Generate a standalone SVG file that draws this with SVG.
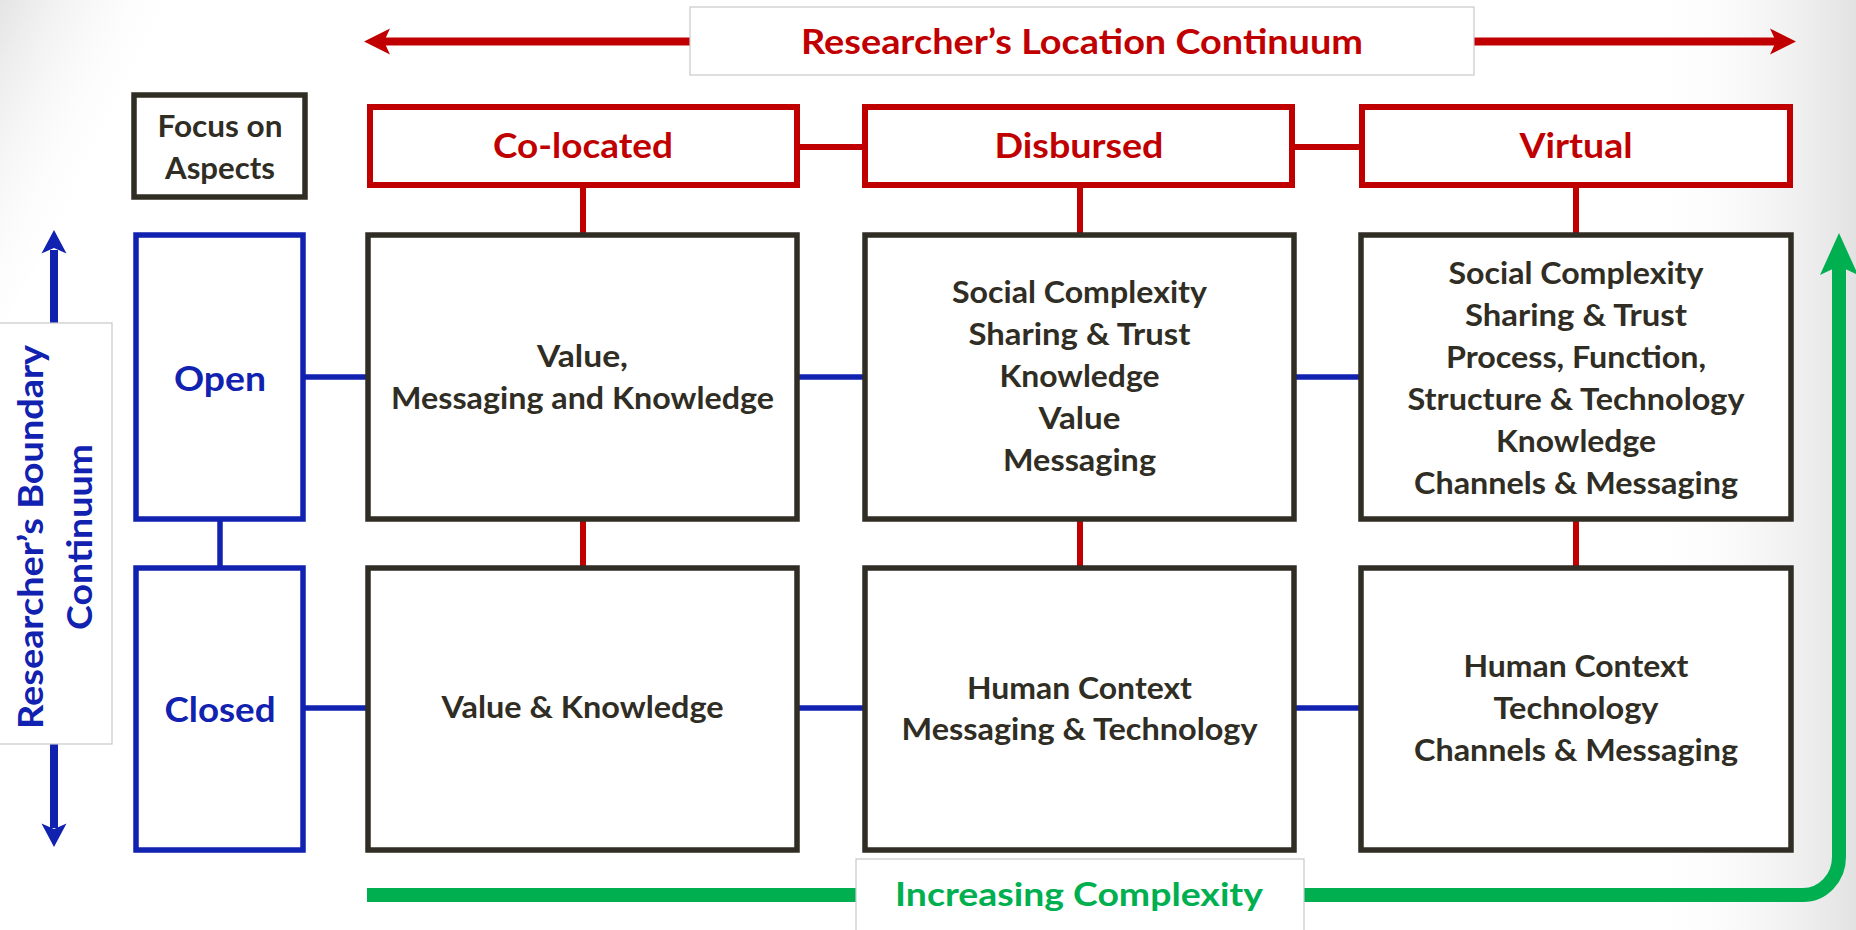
<svg xmlns="http://www.w3.org/2000/svg" width="1856" height="930" viewBox="0 0 1856 930">
  <defs>
    <linearGradient id="gRight" x1="0" y1="0" x2="1" y2="0">
      <stop offset="0" stop-color="#ffffff" stop-opacity="0"/>
      <stop offset="1" stop-color="#e2e2e2" stop-opacity="1"/>
    </linearGradient>
    <linearGradient id="gLeft" x1="0" y1="0" x2="0.6" y2="0.5">
      <stop offset="0" stop-color="#e4e4e4" stop-opacity="1"/>
      <stop offset="1" stop-color="#ffffff" stop-opacity="0"/>
    </linearGradient>
    <style>
      text { font-family: Lato, "Open Sans", "Liberation Sans", sans-serif; font-weight: bold; text-anchor: middle; }
      .box { fill: #ffffff; stroke: #302d24; stroke-width: 5.5; }
      .hdr { fill: #ffffff; stroke: #c00000; stroke-width: 6; }
      .bnd { fill: #ffffff; stroke: #1121b0; stroke-width: 5.5; }
      .lbl { fill: #ffffff; stroke: #c8c8c8; stroke-width: 1.2; }
      .t-box { font-size: 30px; fill: #302d24; }
      .t-red { font-size: 34px; fill: #c00000; }
      .t-blue { font-size: 34px; fill: #1121b0; }
      .t-green { font-size: 32px; fill: #00b050; }
      .c-red { stroke: #c00000; stroke-width: 6; fill: none; }
      .c-blue { stroke: #1121b0; stroke-width: 5.5; fill: none; }
    </style>
  </defs>

  <!-- background -->
  <rect x="0" y="0" width="1856" height="930" fill="#ffffff"/>
  <rect x="1640" y="0" width="216" height="930" fill="url(#gRight)"/>
  <polygon points="0,0 190,0 0,330" fill="url(#gLeft)"/>

  <!-- connectors -->
  <g id="connectors">
    <!-- location continuum arrow -->
    <line x1="382" y1="41.5" x2="1778" y2="41.5" stroke="#c00000" stroke-width="8"/>
    <path d="M364,41.5 L390,28.5 L384,41.5 L390,54.5 Z" fill="#c00000"/>
    <path d="M1796,41.5 L1770,28.5 L1776,41.5 L1770,54.5 Z" fill="#c00000"/>
    <!-- boundary continuum arrow -->
    <line x1="54" y1="250" x2="54" y2="828" stroke="#1121b0" stroke-width="8"/>
    <path d="M54,230 L66.5,253.5 L54,248 L41.5,253.5 Z" fill="#1121b0"/>
    <path d="M54,847 L66.5,823.5 L54,829 L41.5,823.5 Z" fill="#1121b0"/>
    <!-- increasing complexity arrow -->
    <path d="M367,895 H1803 A36 38 0 0 0 1839 857 V262" stroke="#00b050" stroke-width="14" fill="none"/>
    <path d="M1839,233 L1858,275 L1839,266 L1820,275 Z" fill="#00b050"/>
    <!-- header links -->
    <line class="c-red" x1="797" y1="147" x2="865" y2="147"/>
    <line class="c-red" x1="1292" y1="147" x2="1362" y2="147"/>
    <line class="c-red" x1="583" y1="187" x2="583" y2="234"/>
    <line class="c-red" x1="1080" y1="187" x2="1080" y2="234"/>
    <line class="c-red" x1="1576" y1="187" x2="1576" y2="234"/>
    <line class="c-red" x1="583" y1="520" x2="583" y2="567"/>
    <line class="c-red" x1="1080" y1="520" x2="1080" y2="567"/>
    <line class="c-red" x1="1576" y1="520" x2="1576" y2="567"/>
    <!-- row links -->
    <line class="c-blue" x1="304" y1="377" x2="367" y2="377"/>
    <line class="c-blue" x1="798" y1="377" x2="864" y2="377"/>
    <line class="c-blue" x1="1295" y1="377" x2="1360" y2="377"/>
    <line class="c-blue" x1="304" y1="708" x2="367" y2="708"/>
    <line class="c-blue" x1="798" y1="708" x2="864" y2="708"/>
    <line class="c-blue" x1="1295" y1="708" x2="1360" y2="708"/>
    <line class="c-blue" x1="220" y1="520" x2="220" y2="567"/>
  </g>

  <!-- axis labels -->
  <g id="label-location">
    <rect class="lbl" x="690" y="7" width="784" height="68"/>
    <text class="t-red" x="1082" y="54" textLength="562" lengthAdjust="spacingAndGlyphs">Researcher’s Location Continuum</text>
  </g>
  <g id="label-boundary">
    <rect class="lbl" x="-2" y="323" width="114" height="421"/>
    <text class="t-blue" transform="translate(43,537) rotate(-90)" textLength="384" lengthAdjust="spacingAndGlyphs">Researcher’s Boundary</text>
    <text class="t-blue" transform="translate(92,537) rotate(-90)" textLength="186" lengthAdjust="spacingAndGlyphs">Continuum</text>
  </g>
  <g id="label-complexity">
    <rect class="lbl" x="856" y="859" width="448" height="80"/>
    <text class="t-green" x="1079" y="906" textLength="368" lengthAdjust="spacingAndGlyphs">Increasing Complexity</text>
  </g>

  <!-- corner -->
  <g id="focus">
    <rect class="box" x="134" y="95" width="171" height="102"/>
    <text class="t-box" x="220" y="137" textLength="125" lengthAdjust="spacingAndGlyphs">Focus on</text>
    <text class="t-box" x="220" y="179" textLength="110" lengthAdjust="spacingAndGlyphs">Aspects</text>
  </g>

  <!-- column headers -->
  <g id="hdr-colocated">
    <rect class="hdr" x="370" y="107" width="427" height="78"/>
    <text class="t-red" x="583" y="158" textLength="180" lengthAdjust="spacingAndGlyphs">Co-located</text>
  </g>
  <g id="hdr-disbursed">
    <rect class="hdr" x="865" y="107" width="427" height="78"/>
    <text class="t-red" x="1079" y="158" textLength="169" lengthAdjust="spacingAndGlyphs">Disbursed</text>
  </g>
  <g id="hdr-virtual">
    <rect class="hdr" x="1362" y="107" width="428" height="78"/>
    <text class="t-red" x="1576" y="158" textLength="113" lengthAdjust="spacingAndGlyphs">Virtual</text>
  </g>

  <!-- row headers -->
  <g id="row-open">
    <rect class="bnd" x="136" y="235" width="167" height="284"/>
    <text class="t-blue" x="220" y="391" textLength="92" lengthAdjust="spacingAndGlyphs">Open</text>
  </g>
  <g id="row-closed">
    <rect class="bnd" x="136" y="568" width="167" height="282"/>
    <text class="t-blue" x="220" y="722" textLength="111" lengthAdjust="spacingAndGlyphs">Closed</text>
  </g>

  <!-- cells: open row -->
  <g id="cell-open-colocated">
    <rect class="box" x="368" y="235" width="429" height="284"/>
    <text class="t-box" x="582.5" y="367" textLength="91" lengthAdjust="spacingAndGlyphs">Value,</text>
    <text class="t-box" x="582.5" y="409" textLength="383" lengthAdjust="spacingAndGlyphs">Messaging and Knowledge</text>
  </g>
  <g id="cell-open-disbursed">
    <rect class="box" x="865" y="235" width="429" height="284"/>
    <text class="t-box" x="1079.5" y="303" textLength="255" lengthAdjust="spacingAndGlyphs">Social Complexity</text>
    <text class="t-box" x="1079.5" y="345" textLength="222" lengthAdjust="spacingAndGlyphs">Sharing &amp; Trust</text>
    <text class="t-box" x="1079.5" y="387" textLength="160" lengthAdjust="spacingAndGlyphs">Knowledge</text>
    <text class="t-box" x="1079.5" y="429" textLength="82" lengthAdjust="spacingAndGlyphs">Value</text>
    <text class="t-box" x="1079.5" y="471" textLength="153" lengthAdjust="spacingAndGlyphs">Messaging</text>
  </g>
  <g id="cell-open-virtual">
    <rect class="box" x="1361" y="235" width="430" height="284"/>
    <text class="t-box" x="1576" y="284" textLength="255" lengthAdjust="spacingAndGlyphs">Social Complexity</text>
    <text class="t-box" x="1576" y="326" textLength="222" lengthAdjust="spacingAndGlyphs">Sharing &amp; Trust</text>
    <text class="t-box" x="1576" y="368" textLength="260" lengthAdjust="spacingAndGlyphs">Process, Function,</text>
    <text class="t-box" x="1576" y="410" textLength="337" lengthAdjust="spacingAndGlyphs">Structure &amp; Technology</text>
    <text class="t-box" x="1576" y="452" textLength="160" lengthAdjust="spacingAndGlyphs">Knowledge</text>
    <text class="t-box" x="1576" y="494" textLength="324" lengthAdjust="spacingAndGlyphs">Channels &amp; Messaging</text>
  </g>

  <!-- cells: closed row -->
  <g id="cell-closed-colocated">
    <rect class="box" x="368" y="568" width="429" height="282"/>
    <text class="t-box" x="582.5" y="718" textLength="282" lengthAdjust="spacingAndGlyphs">Value &amp; Knowledge</text>
  </g>
  <g id="cell-closed-disbursed">
    <rect class="box" x="865" y="568" width="429" height="282"/>
    <text class="t-box" x="1079.5" y="699" textLength="225" lengthAdjust="spacingAndGlyphs">Human Context</text>
    <text class="t-box" x="1079.5" y="740" textLength="356" lengthAdjust="spacingAndGlyphs">Messaging &amp; Technology</text>
  </g>
  <g id="cell-closed-virtual">
    <rect class="box" x="1361" y="568" width="430" height="282"/>
    <text class="t-box" x="1576" y="677" textLength="225" lengthAdjust="spacingAndGlyphs">Human Context</text>
    <text class="t-box" x="1576" y="719" textLength="165" lengthAdjust="spacingAndGlyphs">Technology</text>
    <text class="t-box" x="1576" y="761" textLength="324" lengthAdjust="spacingAndGlyphs">Channels &amp; Messaging</text>
  </g>
</svg>
